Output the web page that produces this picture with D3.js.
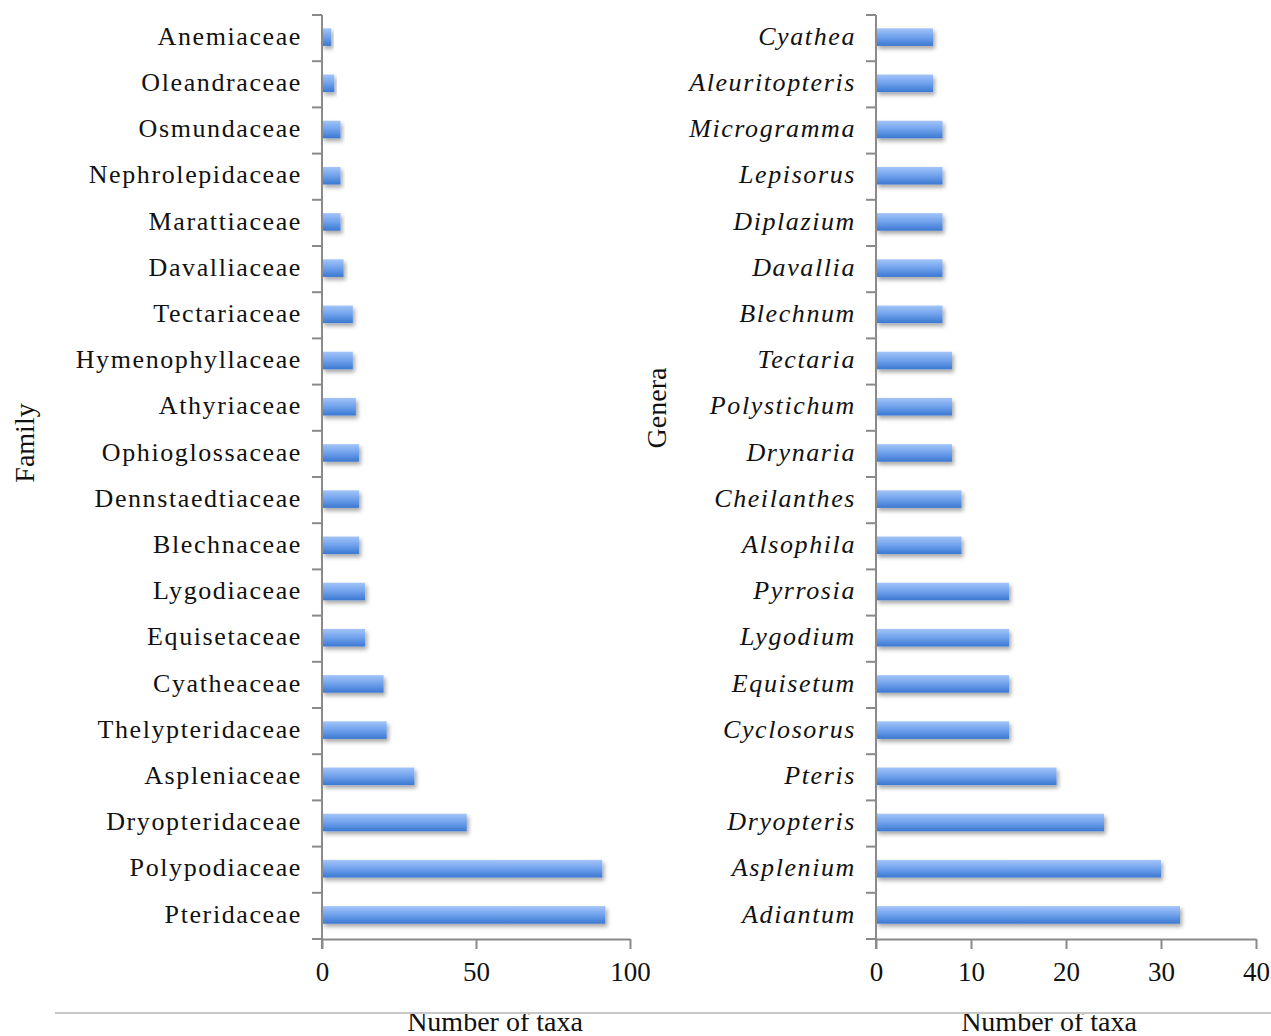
<!DOCTYPE html>
<html>
<head>
    <title>Ferns - families and genera</title>
    <script src="https://cdn.jsdelivr.net/npm/d3@7"></script>
    <style>
        body { margin: 0; background: #fff; }
        .cat { font-family: "Liberation Serif", serif; font-size: 26px; letter-spacing: 1.6px; fill: #111; }
        .tick-x { font-family: "Liberation Serif", serif; font-size: 27px; fill: #111; }
        .title { font-family: "Liberation Serif", serif; font-size: 28px; fill: #111; }
    </style>
</head>
<body>
    <svg width="1271" height="1036" id="mainSvg"></svg>
    <script>
        // data (top to bottom)
        const families = ["Anemiaceae", "Oleandraceae", "Osmundaceae", "Nephrolepidaceae", "Marattiaceae",
            "Davalliaceae", "Tectariaceae", "Hymenophyllaceae", "Athyriaceae", "Ophioglossaceae",
            "Dennstaedtiaceae", "Blechnaceae", "Lygodiaceae", "Equisetaceae", "Cyatheaceae",
            "Thelypteridaceae", "Aspleniaceae", "Dryopteridaceae", "Polypodiaceae", "Pteridaceae"];
        const familyTaxa = [3, 4, 6, 6, 6, 7, 10, 10, 11, 12, 12, 12, 14, 14, 20, 21, 30, 47, 91, 92];
        const familyTicks = [0, 50, 100];

        const genera = ["Cyathea", "Aleuritopteris", "Microgramma", "Lepisorus", "Diplazium",
            "Davallia", "Blechnum", "Tectaria", "Polystichum", "Drynaria",
            "Cheilanthes", "Alsophila", "Pyrrosia", "Lygodium", "Equisetum",
            "Cyclosorus", "Pteris", "Dryopteris", "Asplenium", "Adiantum"];
        const generaTaxa = [6, 6, 7, 7, 7, 7, 7, 8, 8, 8, 9, 9, 14, 14, 14, 14, 19, 24, 30, 32];
        const generaTicks = [0, 10, 20, 30, 40];

        const svg = d3.select("#mainSvg");
        const axisColor = "#8a8a8a";

        const defs = svg.append("defs");
        const grad = defs.append("linearGradient")
            .attr("id", "barGrad").attr("x1", 0).attr("y1", 0).attr("x2", 0).attr("y2", 1);
        grad.append("stop").attr("offset", "0%").attr("stop-color", "#a3c4f8");
        grad.append("stop").attr("offset", "45%").attr("stop-color", "#74a5ee");
        grad.append("stop").attr("offset", "100%").attr("stop-color", "#3b78d2");
        const shadow = defs.append("filter").attr("id", "shadow")
            .attr("x", "-10%").attr("y", "-30%").attr("width", "130%").attr("height", "190%");
        shadow.append("feDropShadow").attr("dx", 2).attr("dy", 3).attr("stdDeviation", 2)
            .attr("flood-color", "#000").attr("flood-opacity", 0.35);

        function drawPanel(opts) {
            const { names, values, ticks, x0, x1, top, bottom, italic, title, titleX, titleY } = opts;

            const x = d3.scaleLinear().domain([ticks[0], ticks[ticks.length - 1]]).range([x0, x1]);
            const y = d3.scaleBand().domain(names).range([top, bottom]).paddingInner(0.62).paddingOuter(0.31);

            const g = svg.append("g");

            // bars
            g.selectAll("rect.bar")
                .data(names)
                .join("rect")
                .attr("class", "bar")
                .attr("x", x(0))
                .attr("y", d => y(d) - 1)
                .attr("width", (d, i) => x(values[i]) - x(0))
                .attr("height", y.bandwidth())
                .attr("fill", "url(#barGrad)")
                .attr("filter", "url(#shadow)");

            // category boundary ticks on the value axis
            const step = (bottom - top) / names.length;
            const edges = d3.range(names.length + 1).map(i => top + i * step);
            g.selectAll("line.edge")
                .data(edges)
                .join("line")
                .attr("x1", x0 - 10).attr("x2", x0)
                .attr("y1", d => d).attr("y2", d => d)
                .attr("stroke", axisColor).attr("stroke-width", 2);
            g.append("line")
                .attr("x1", x0).attr("x2", x0)
                .attr("y1", top).attr("y2", bottom + 10)
                .attr("stroke", axisColor).attr("stroke-width", 2);

            // category labels
            g.selectAll("text.cat")
                .data(names)
                .join("text")
                .attr("class", "cat")
                .attr("x", x0 - 20)
                .attr("y", d => y(d) + y.bandwidth() / 2)
                .attr("dy", "0.26em")
                .attr("text-anchor", "end")
                .style("font-style", italic ? "italic" : "normal")
                .text(d => d);

            // value axis
            const xAxis = g.append("g")
                .attr("transform", `translate(0,${bottom})`)
                .call(d3.axisBottom(x).tickValues(ticks).tickSize(10).tickSizeOuter(0).tickPadding(13));
            xAxis.select(".domain").attr("stroke", axisColor).attr("stroke-width", 2);
            xAxis.selectAll(".tick line").attr("stroke", axisColor).attr("stroke-width", 2);
            xAxis.selectAll(".tick text").attr("class", "tick-x").attr("fill", null);
            xAxis.attr("font-size", null).attr("font-family", null);

            // axis titles
            svg.append("text")
                .attr("class", "title")
                .attr("transform", `translate(${titleX},${titleY}) rotate(-90)`)
                .attr("text-anchor", "middle")
                .attr("dy", "0.35em")
                .text(title);
            svg.append("text")
                .attr("class", "title")
                .attr("x", (x0 + x1) / 2 + (opts.nbOffset || 0))
                .attr("y", 1031)
                .attr("text-anchor", "middle")
                .text("Number of taxa");
        }

        drawPanel({
            names: families, values: familyTaxa, ticks: familyTicks,
            x0: 322, x1: 630, top: 15, bottom: 939, italic: false,
            title: "Family", titleX: 24, titleY: 443, nbOffset: 19
        });
        drawPanel({
            names: genera, values: generaTaxa, ticks: generaTicks,
            x0: 876, x1: 1256, top: 15, bottom: 939, italic: true,
            title: "Genera", titleX: 656, titleY: 408, nbOffset: -17
        });

        svg.append("line")
            .attr("x1", 55).attr("x2", 1271)
            .attr("y1", 1013).attr("y2", 1013)
            .attr("stroke", "#c8c8c8").attr("stroke-width", 2);
    </script>
</body>
</html>
